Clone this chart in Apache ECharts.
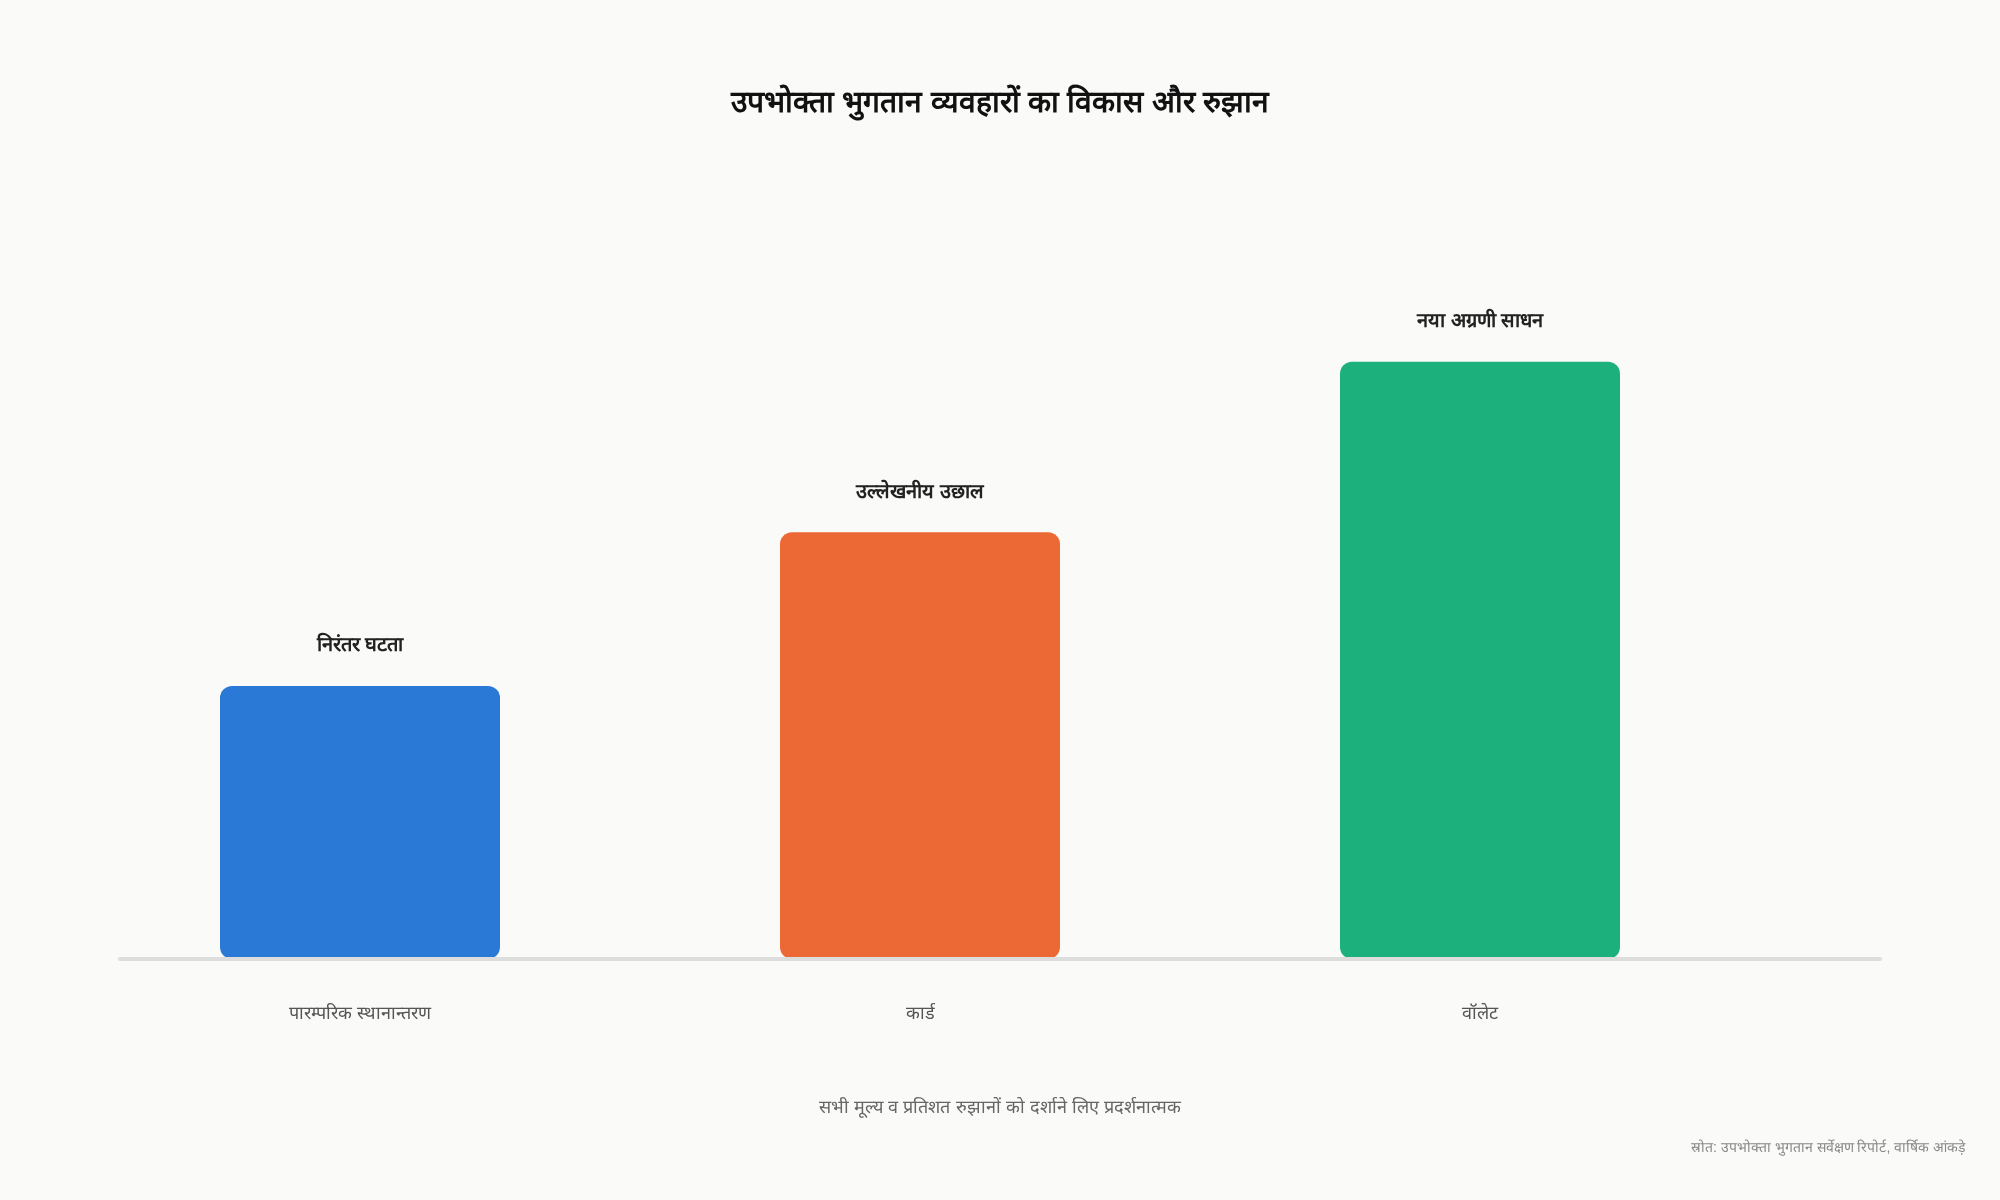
<!DOCTYPE html>
<html>
<head>
<meta charset="utf-8">
<script src="https://cdn.jsdelivr.net/npm/echarts@6/dist/echarts.min.js"></script>
<style>
  html, body { margin: 0; padding: 0; background: #fafaf8; }
  #container { width: 2000px; height: 1200px; }
</style>
</head>
<body>
<div id="container"></div>
<script>
// डेटा
var titleText = 'उपभोक्ता भुगतान व्यवहारों का विकास और रुझान';
var footText = 'सभी मूल्य व प्रतिशत रुझानों को दर्शाने लिए प्रदर्शनात्मक';
var sourceText = 'स्रोत: उपभोक्ता भुगतान सर्वेक्षण रिपोर्ट, वार्षिक आंकड़े';
var categories = ['पारम्परिक स्थानान्तरण', 'कार्ड', 'वॉलेट'];
var values = [32, 50, 70];
var barLabels = ['निरंतर घटता', 'उल्लेखनीय उछाल', 'नया अग्रणी साधन'];
var barColors = ['#2a79d6', '#ec6935', '#1bb07c'];

var dom = document.getElementById('container');
var myChart = echarts.init(dom);

var seriesData = values.map(function (v, i) {
    return {
        value: v,
        itemStyle: { color: barColors[i] },
        label: { formatter: barLabels[i] }
    };
});

myChart.setOption({
    backgroundColor: '#fafaf8',
    title: [
        {
            text: titleText,
            left: 'center',
            top: 84,
            textStyle: { fontSize: 30, fontWeight: 'bold', color: '#111' }
        },
        {
            text: footText,
            left: 'center',
            top: 1094,
            textStyle: { fontSize: 18, fontWeight: 'normal', color: '#666' }
        },
        {
            text: sourceText,
            left: 1686,
            top: 1136,
            textStyle: { fontSize: 14, fontWeight: 'normal', color: '#888' }
        }
    ],
    grid: [
        { left: 80, right: 240, top: 191, bottom: 241 },
        //只画底线用
        { left: 120, right: 120, top: 191, bottom: 241 }
    ],
    xAxis: [
        {
            type: 'category',
            data: categories,
            gridIndex: 0,
            axisLine: { show: false },
            axisTick: { show: false },
            axisLabel: { margin: 46, fontSize: 18, color: '#555' }
        },
        {
            type: 'category',
            data: [''],
            gridIndex: 1,
            axisLine: { show: true, lineStyle: { color: '#dddddd', width: 4 } },
            axisTick: { show: false },
            axisLabel: { show: false },
            z: 5
        }
    ],
    yAxis: [
        { type: 'value', min: 0, max: 90, show: false, gridIndex: 0 },
        { type: 'value', min: 0, max: 90, show: false, gridIndex: 1 }
    ],
    series: [
        {
            type: 'bar',
            xAxisIndex: 0,
            yAxisIndex: 0,
            barWidth: '50%',
            data: seriesData,
            itemStyle: { borderRadius: 12 },
            label: {
                show: true,
                position: 'top',
                distance: 30,
                fontSize: 20,
                fontWeight: 'bold',
                color: '#222'
            }
        }
    ]
});

window.addEventListener('resize', function () {
    myChart.resize();
});
</script>
</body>
</html>
